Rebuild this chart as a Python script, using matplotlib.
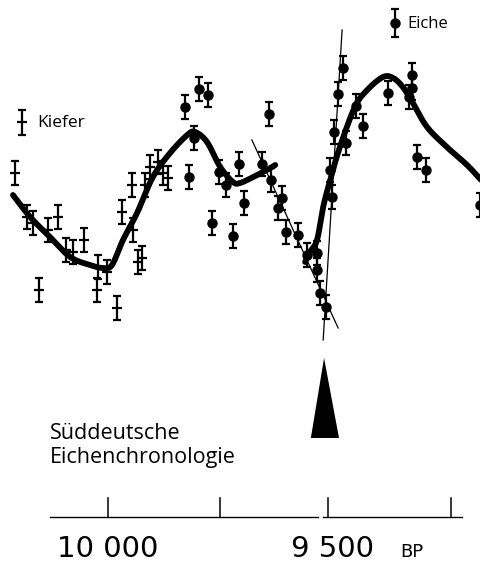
import matplotlib
matplotlib.use("Agg")
import matplotlib.pyplot as plt
import numpy as np

# ---- data (years BP, arbitrary relative values) ----
kiefer_year = [10211, 10184, 10170, 10136, 10114, 10157, 10095, 10080, 10055, 10025,
               10023, 10002, 9980, 9968, 9943, 9945, 9932, 9923, 9916, 9905,
               9886, 9875, 9864]
kiefer_val = [22.7, 18.3, 17.7, 17.0, 18.3, 11.0, 15.0, 14.8, 16.0, 11.0,
              13.3, 12.8, 9.2, 18.8, 17.0, 21.5, 13.8, 14.2, 21.5, 23.3,
              23.8, 22.7, 22.2]

eiche_year = [9825, 9793, 9773, 9805, 9816, 9748, 9732, 9702, 9691, 9764,
              9716, 9634, 9650, 9630, 9605, 9614, 9595, 9568, 9548, 9525,
              9525, 9518, 9505, 9495, 9491, 9486, 9477, 9466, 9459, 9436,
              9420, 9364, 9309, 9309, 9316, 9298, 9277, 9155]
eiche_val = [29.3, 31.1, 30.5, 26.2, 22.3, 22.8, 21.5, 23.6, 19.7, 17.7,
             16.4, 28.6, 23.6, 22.0, 20.2, 19.2, 16.8, 16.5, 14.5, 14.7,
             13.0, 10.7, 9.3, 23.0, 20.3, 26.8, 30.6, 33.2, 25.7, 29.4,
             27.4, 30.7, 32.5, 31.2, 30.3, 24.3, 23.0, 19.5]

err_val = 1.2      # vertical error bar half-length
kiefer_xerr = 11   # horizontal bar of pine crosses

curve1_year = [10216, 10177, 10132, 10086, 10041, 10011, 9991, 9966, 9934, 9898,
               9859, 9820, 9802, 9775, 9745, 9716, 9700, 9670, 9639, 9620]
curve1_val = [20.5, 18.3, 16.3, 14.3, 13.5, 13.2, 13.5, 16.0, 18.7, 22.3,
              24.7, 26.5, 26.8, 25.8, 23.3, 21.8, 21.7, 22.3, 23.0, 23.5]

curve2_year = [9552, 9541, 9525, 9511, 9495, 9473, 9439, 9411, 9375, 9352,
               9330, 9307, 9275, 9230, 9184, 9152]
curve2_val = [13.8, 14.8, 16.0, 19.3, 22.0, 25.3, 29.3, 31.0, 32.3, 32.2,
              31.3, 29.7, 27.3, 25.3, 23.5, 22.0]

lineA_year = [9673, 9477]
lineA_val = [26.0, 7.2]
lineB_year = [9468, 9511]
lineB_val = [37.0, 6.0]

marker_year = 9509          # arrow (triangle) position
tick_years = [10000, 9745, 9500, 9220]
tick_labels = ["10 000", "9 500"]
tick_label_years = [10000, 9490]


def smooth(xs, ys, n=12, sx=0.44, sy=10.0):
    """Catmull-Rom spline through the given nodes (for drawing only)."""
    p = np.column_stack([np.asarray(xs, float) * sx, np.asarray(ys, float) * sy])
    p = np.vstack([2 * p[0] - p[1], p, 2 * p[-1] - p[-2]])
    out = []
    t = np.linspace(0, 1, n, endpoint=False)[:, None]
    for i in range(1, len(p) - 2):
        p0, p1, p2, p3 = p[i - 1], p[i], p[i + 1], p[i + 2]
        seg = 0.5 * ((2 * p1) + (-p0 + p2) * t + (2 * p0 - 5 * p1 + 4 * p2 - p3) * t ** 2
                     + (-p0 + 3 * p1 - 3 * p2 + p3) * t ** 3)
        out.append(seg)
    out.append(p[-2][None, :])
    out = np.vstack(out)
    return out[:, 0] / sx, out[:, 1] / sy


# ---- figure ----
fig = plt.figure(figsize=(4.81, 5.64), dpi=100)
ax = fig.add_axes([0, 0, 1, 1])
ax.set_xlim(10245.5, 9152.3)
ax.set_ylim(-16.4, 40)
ax.axis("off")

# curves
for cx, cy in [(curve1_year, curve1_val), (curve2_year, curve2_val)]:
    sx_, sy_ = smooth(cx, cy)
    ax.plot(sx_, sy_, color="black", lw=4.2, solid_capstyle="round",
            solid_joinstyle="round", zorder=3)
ax.plot(lineA_year, lineA_val, color="black", lw=0.9, zorder=2)
ax.plot(lineB_year, lineB_val, color="black", lw=0.9, zorder=2)

# pine (Kiefer): crosses
ax.errorbar(kiefer_year, kiefer_val, yerr=err_val, fmt="none", ecolor="black",
            elinewidth=1.6, capsize=3, capthick=1.6, zorder=4)
ax.errorbar(kiefer_year, kiefer_val, xerr=kiefer_xerr, fmt="none", ecolor="black",
            elinewidth=1.6, capsize=0, zorder=4)

# oak (Eiche): dots
ax.errorbar(eiche_year, eiche_val, yerr=err_val, fmt="o", color="black",
            markersize=6.5, elinewidth=1.6, capsize=3, capthick=1.6, zorder=5)

# legend entries
ax.errorbar([10195], [27.8], yerr=1.25, fmt="none", ecolor="black",
            elinewidth=1.6, capsize=3, capthick=1.6)
ax.errorbar([10195], [27.8], xerr=11, fmt="none", ecolor="black",
            elinewidth=1.6, capsize=0)
ax.text(10161, 27.7, "Kiefer", fontsize=12.5, family="Open Sans",
        va="center", ha="left")
ax.errorbar([9348], [37.7], yerr=1.35, fmt="o", color="black",
            markersize=6.5, elinewidth=1.6, capsize=3, capthick=1.6)
ax.text(9320, 37.6, "Eiche", fontsize=12, family="Open Sans",
        va="center", ha="left")

# triangle marker
ax.fill([marker_year, marker_year + 30, marker_year - 34],
        [4.2, -3.8, -3.8], color="black", lw=0)

# text
ax.text(10132, -3.9, "Süddeutsche", fontsize=15.5,
        family="Open Sans", ha="left", va="baseline")
ax.text(10132, -6.3, "Eichenchronologie", fontsize=15.5,
        family="Open Sans", ha="left", va="baseline")

# time axis
ax.plot([10132, 9523], [-11.7, -11.7], color="black", lw=1.0)
ax.plot([9511, 9195], [-11.7, -11.7], color="black", lw=1.0)
for t in tick_years:
    ax.plot([t, t], [-11.7, -9.8], color="black", lw=1.1)
for t, lab in zip(tick_label_years, tick_labels):
    ax.text(t, -15.7, lab, fontsize=21, family="DejaVu Sans", ha="center",
            va="baseline")
ax.text(9336, -15.7, "BP", fontsize=13, family="DejaVu Sans", ha="left",
        va="baseline")

fig.savefig("out.png", dpi=100)
